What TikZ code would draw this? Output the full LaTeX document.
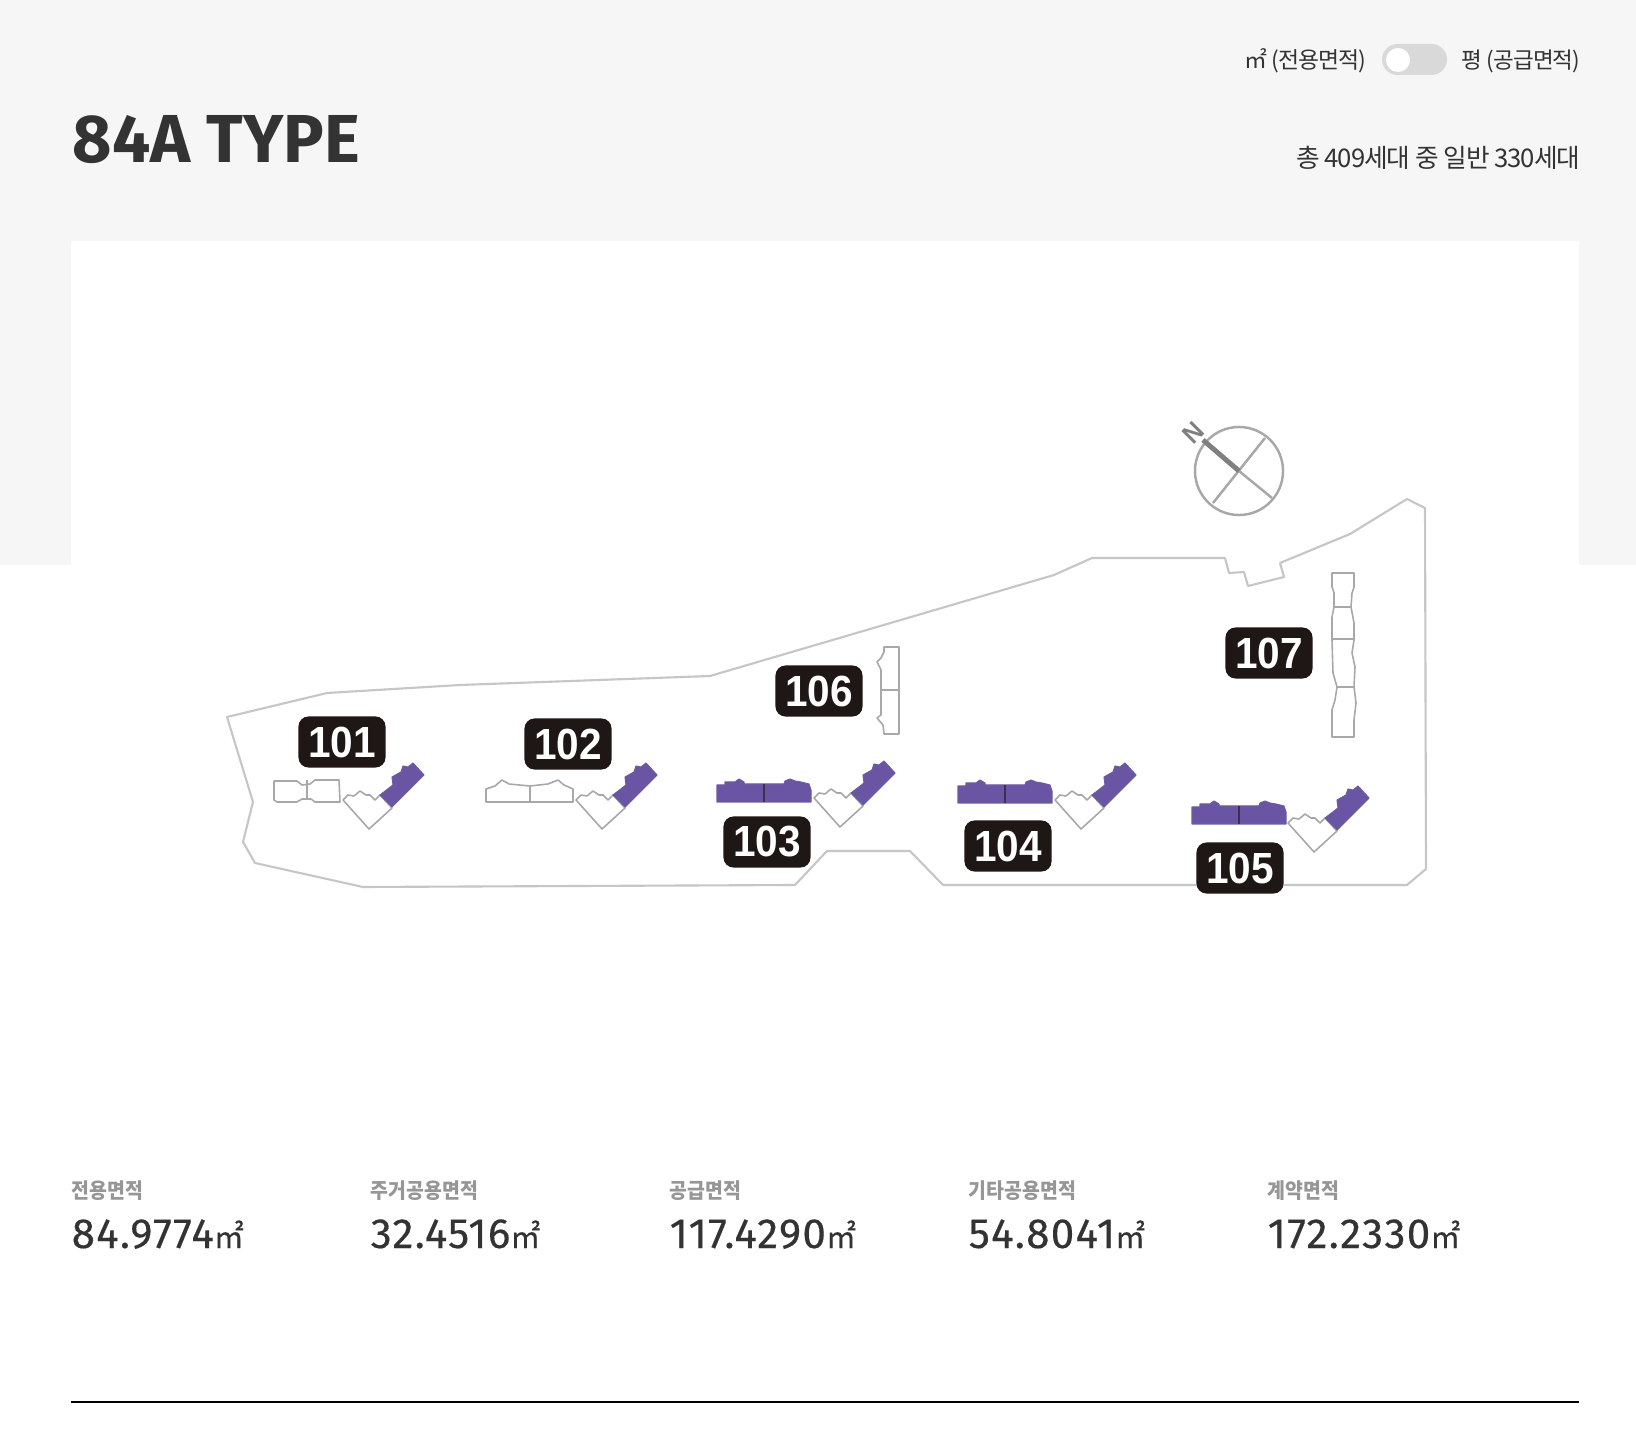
\documentclass[tikz,border=0pt]{standalone}
\usepackage{fontspec}
\setmainfont{Fira Sans}
\newfontfamily\krfont[FakeBold=0.3,FakeStretch=.95]{Noto Sans CJK KR}
\newfontfamily\krtight[LetterSpace=-4]{Noto Sans CJK KR}
\newfontfamily\krlabel[FakeStretch=.92]{Noto Sans CJK KR}
\newfontfamily\badgefont[FakeStretch=.93]{Liberation Sans}
\newfontfamily\valuefont[LetterSpace=3,FakeBold=0.3]{Fira Sans}
\definecolor{pagegray}{HTML}{F6F6F6}
\definecolor{inkdark}{HTML}{333333}
\definecolor{labelgray}{HTML}{969696}
\definecolor{sitegray}{HTML}{C6C6C6}
\definecolor{blockgray}{HTML}{A8A8A8}
\definecolor{unitpurple}{HTML}{6A55A4}
\definecolor{badgeblack}{HTML}{1F1715}
\tikzset{
  sitebadge/.style={fill=badgeblack, text=white, rounded corners=0.1cm, minimum width=0.87cm, minimum height=0.51cm, inner sep=0pt, font=\badgefont\bfseries\fontsize{12.4pt}{12.4pt}\selectfont},
  blockline/.style={draw=blockgray, line width=0.45pt, line join=round},
  unitblock/.style={draw=unitpurple!85!gray, fill=unitpurple, line width=0.3pt, line join=round},
  arealabel/.style={anchor=base west, inner sep=0pt, text=labelgray, font=\krlabel\bfseries\fontsize{6pt}{6pt}\selectfont},
  areavalue/.style={anchor=base west, inner sep=0pt, text=inkdark},
}
\begin{document}
\begin{tikzpicture}[x=0.01cm, y=-0.01cm]
\useasboundingbox (0,0) rectangle (1636,1440);
% Page background
\fill[white] (0,0) rectangle (1636,1440);
\fill[pagegray] (0,0) rectangle (1636,565);
\fill[white] (71,241) rectangle (1579,565);

% Header
\node[anchor=base west, inner sep=0pt, text=inkdark, font=\bfseries\fontsize{19.3pt}{19.3pt}\selectfont] (title) at (72,163) {84A TYPE};
\node[anchor=base east, inner sep=0pt, text=inkdark, font=\krtight\fontsize{7.3pt}{7.3pt}\selectfont] (total) at (1581,168) {총 409세대 중 일반 330세대};
\node[anchor=base east, inner sep=0pt, text=inkdark, font=\krtight\fontsize{6.4pt}{6.4pt}\selectfont] (unitb) at (1581,69) {평 (공급면적)};
\node[anchor=base east, inner sep=0pt, text=inkdark, font=\krtight\fontsize{6.5pt}{6.5pt}\selectfont] (unita) at (1367,69) {㎡ (전용면적)};
\fill[gray!30, rounded corners=0.155cm] (1382,44) rectangle (1447,75);
\fill[white] (1398,60) circle (0.12cm);

% Site outline
\draw[sitegray, line width=0.6pt, line join=round] (227,717) -- (327,693) -- (460,685) -- (710,676)
  -- (1054,575) -- (1092,558) -- (1225,558) -- (1229,573) -- (1244,572) -- (1248,586) -- (1284,577)
  -- (1280,563) -- (1350,534) -- (1407,499) -- (1425,508) -- (1426,869) -- (1407,885) -- (943,885)
  -- (910,851) -- (827,851) -- (795,885) -- (363,887) -- (255,863) -- (243,842) -- (253,802) -- cycle;

% Compass
\draw[blockgray, line width=0.7pt] (1239,471) circle (0.44cm);
\draw[blockgray, line width=0.7pt] (1213,503) -- (1265,438);
\draw[blockgray, line width=0.7pt] (1239,471) -- (1272,498);
\draw[gray, line width=1.4pt] (1203,440) -- (1239,471);
\node[text=gray, rotate=45, inner sep=0pt, font=\badgefont\bfseries\fontsize{7.5pt}{7.5pt}\selectfont] (north) at (1193,433) {N};

% L shaped blocks, purple wing
\foreach \x/\y in {369/829, 602/829, 840/827, 1081/829, 1314/852} {
  \begin{scope}[shift={(\x,\y)}]
    \draw[blockline, fill=white] (0,0) -- (-26,-29) -- (-21,-34) -- (-15,-33) -- (-9,-38) -- (-3,-34) -- (1,-34) -- (6,-29) -- (11,-34) -- (23,-21) -- cycle;
    \draw[unitblock] (11,-34) -- (23,-22) -- (55,-54) -- (44,-66) -- (39,-62) -- (34,-63) -- (32,-57) -- (23,-52) -- (24,-44) -- cycle;
  \end{scope}
}

% Purple bars
\foreach \x/\y in {717/802, 958/803, 1192/824} {
  \begin{scope}[shift={(\x,\y)}]
    \draw[unitblock] (0,0) -- (0,-17) -- (8,-17) -- (8,-20) -- (18,-20) -- (22,-23) -- (27,-20) -- (27,-18) -- (67,-18)
      -- (68,-21) -- (73,-23) -- (78,-21) -- (84,-20) -- (92,-18) -- (94,-12) -- (94,0) -- cycle;
    \draw[badgeblack!60!unitpurple, line width=0.5pt] (47,-18) -- (47,0);
  \end{scope}
}

% White blocks
\draw[blockline] (274,781) -- (297,781) -- (302,785) -- (310,784) -- (315,780) -- (339,780) -- (340,802) -- (315,802)
  -- (311,799) -- (302,799) -- (297,802) -- (277,802) -- (274,800) -- cycle;
\draw[blockline] (307,780) -- (307,800);
\draw[blockline] (486,802) -- (486,789) -- (495,786) -- (502,780) -- (509,784) -- (530,786) -- (548,784) -- (558,780)
  -- (564,785) -- (573,789) -- (573,802) -- cycle;
\draw[blockline] (530,786) -- (530,802);
\draw[blockline] (884,647) -- (899,647) -- (899,734) -- (884,734) -- (883,725) -- (877,718) -- (881,715) -- (881,687)
  -- (881,670) -- (877,662) -- (881,658) -- (884,652) -- cycle;
\draw[blockline] (881,690) -- (899,690);
\draw[blockline] (1332,573) -- (1354,573) -- (1354,587) -- (1352,593) -- (1351,607) -- (1354,623) -- (1354,640) -- (1352,653)
  -- (1355,667) -- (1354,687) -- (1356,703) -- (1354,720) -- (1354,737) -- (1332,737) -- (1332,710) -- (1335,700) -- (1337,687)
  -- (1333,673) -- (1332,640) -- (1332,617) -- (1334,607) -- (1334,593) -- (1332,587) -- cycle;
\draw[blockline] (1334,607) -- (1351,607);
\draw[blockline] (1332,639) -- (1353,639);
\draw[blockline] (1337,687) -- (1354,687);

% Building numbers
\foreach \name/\x/\y in {101/342/742, 102/568/744, 103/767/842, 104/1008/846, 105/1240/868, 106/819/691, 107/1269/653}
  \node[sitebadge] (b\name) at (\x,\y) {\name};

% Area table
\foreach \i/\x/\lab/\val in {1/71/전용면적/84.9774, 2/370/주거공용면적/32.4516, 3/669/공급면적/117.4290, 4/968/기타공용면적/54.8041, 5/1267/계약면적/172.2330} {
  \node[arealabel] (lab\i) at (\x,1198) {\lab};
  \node[areavalue] (val\i) at (\x,1248) {\valuefont\fontsize{12pt}{12pt}\selectfont\val{\krfont\fontsize{9pt}{9pt}\selectfont ㎡}};
}

% Rule
\draw[black, line width=0.5pt] (71,1402) -- (1579,1402);
\end{tikzpicture}
\end{document}
